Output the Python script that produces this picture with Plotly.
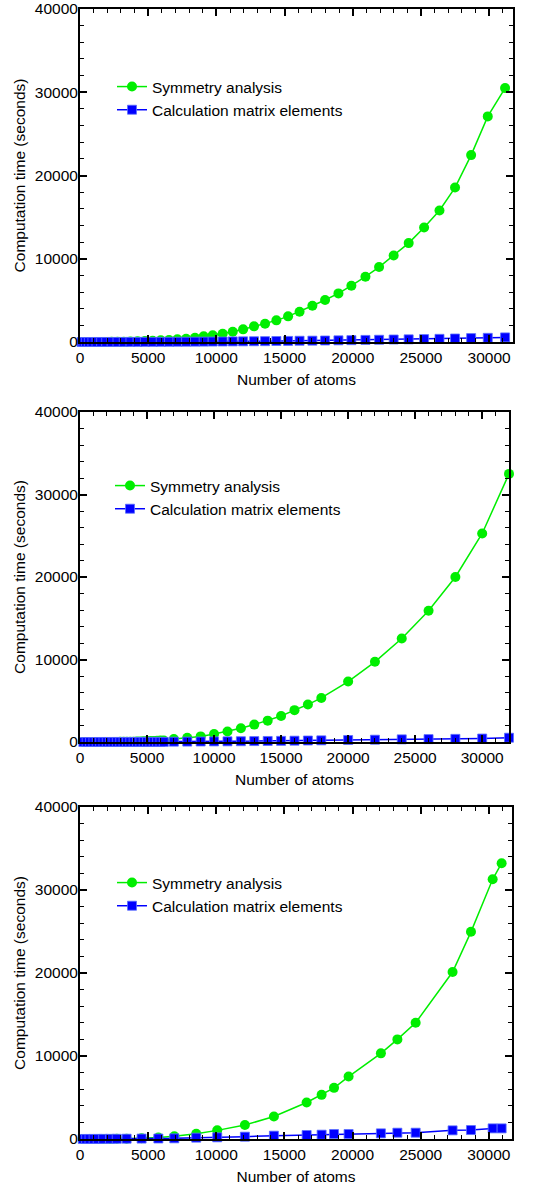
import plotly.graph_objects as go

# ---------------- Panel 1 data ----------------
atoms1 = [120, 250, 430, 650, 910, 1210, 1550, 1920, 2320, 2750, 3210, 3700, 4220, 4760,
          5330, 5920, 6530, 7140, 7780, 8430, 9070, 9730, 10460, 11200, 11960, 12760,
          13570, 14400, 15260, 16100, 17040, 17970, 18950, 19900, 20930, 21930, 23000,
          24100, 25230, 26360, 27500, 28680, 29900, 31170]
sym1 = [0.2, 0.5, 1, 2, 3, 5, 8, 12, 19, 28, 40, 55, 80, 110,
        150, 200, 240, 320, 400, 520, 680, 800, 1000, 1240, 1520, 1880,
        2200, 2600, 3080, 3640, 4360, 5040, 5840, 6760, 7840, 9000, 10400,
        11880, 13760, 15800, 18550, 22450, 27100, 30500]
mat1 = [0, 0, 0, 0, 1, 1, 1, 2, 3, 4, 6, 8, 10, 13,
        16, 20, 24, 29, 34, 40, 47, 55, 60, 70, 80, 90,
        100, 120, 130, 150, 160, 180, 200, 220, 250, 270, 300,
        320, 350, 380, 420, 470, 500, 550]

# ---------------- Panel 2 data ----------------
atoms2 = [250, 500, 750, 1000, 1250, 1500, 1750, 2000, 2250, 2500, 2750, 3000, 3250,
          3500, 3750, 4000, 4250, 4500, 4750, 5000, 5250, 5500, 5750, 6000, 6250,
          7000, 8000, 9000, 10000, 11000, 12000, 13000, 14000, 15000, 16000, 17000,
          18000, 20000, 22000, 24000, 26000, 28000, 30000, 32000]
sym2 = [0.1, 0.3, 0.7, 1, 2, 3, 4, 6, 8, 11, 15, 19, 24,
        30, 37, 45, 55, 65, 78, 92, 108, 126, 146, 168, 192,
        360, 520, 680, 960, 1270, 1670, 2110, 2590, 3150, 3860, 4540,
        5340, 7330, 9720, 12550, 15900, 20000, 25280, 32500]
mat2 = [0, 0, 0, 0, 0, 1, 1, 1, 1, 2, 2, 3, 3,
        4, 4, 5, 6, 7, 8, 9, 10, 11, 12, 14, 15,
        40, 50, 60, 70, 80, 95, 110, 125, 140, 160, 180,
        200, 240, 280, 320, 350, 380, 420, 520]

# ---------------- Panel 3 data ----------------
atoms3 = [200, 450, 700, 1000, 1300, 1700, 2200, 2700, 3420, 4520, 5750, 6920, 8530,
          10070, 12100, 14230, 16630, 17730, 18640, 19710, 22080, 23290, 24630,
          27340, 28690, 30280, 30940]
sym3 = [0.1, 0.5, 1, 2, 3, 6, 12, 20, 40, 90, 180, 320, 640,
        1040, 1680, 2720, 4400, 5320, 6160, 7520, 10320, 12000, 14000,
        20120, 24960, 31290, 33230]
mat3 = [1, 2, 4, 6, 9, 13, 18, 24, 35, 50, 60, 80, 160,
        200, 280, 400, 480, 520, 600, 600, 680, 760, 760,
        1040, 1080, 1280, 1280]

x_ranges = [[0, 31750], [0, 32000], [0, 31700]]
y_range = [0, 40000]

GREEN = "rgb(0,238,0)"
BLUE = "rgb(0,0,255)"
FONT = "Liberation Sans, Arial, Helvetica, sans-serif"
FS = 15.5

panels = [(atoms1, sym1, mat1), (atoms2, sym2, mat2), (atoms3, sym3, mat3)]

fig = go.Figure()
for i, (ax, s, m) in enumerate(panels):
    suf = "" if i == 0 else str(i + 1)
    leg = "legend" + suf
    fig.add_trace(go.Scatter(
        x=ax, y=s, mode="lines+markers", name="Symmetry analysis",
        line=dict(color=GREEN, width=1.5),
        marker=dict(symbol="circle", size=10, color=GREEN),
        xaxis="x" + suf, yaxis="y" + suf, legend=leg, cliponaxis=False))
    fig.add_trace(go.Scatter(
        x=ax, y=m, mode="lines+markers", name="Calculation matrix elements",
        line=dict(color=BLUE, width=1.5),
        marker=dict(symbol="square", size=9, color=BLUE,
                    line=dict(color="rgba(90,110,255,0.8)", width=1)),
        xaxis="x" + suf, yaxis="y" + suf, legend=leg, cliponaxis=False))

W, H = 552, 1188
# plot-area pixel boxes (left, right, top, bottom)
boxes = [(80, 513, 9, 342), (80, 509, 412, 742), (80, 512, 807, 1139)]

common_axis = dict(
    showline=True, linecolor="black", linewidth=2, mirror="ticks",
    ticks="inside", ticklen=7, tickwidth=1.5, tickcolor="black",
    showgrid=False, zeroline=False, layer="above traces", automargin=False,
    tickformat="d",
    tickfont=dict(family=FONT, size=FS, color="black"),
)

layout = dict(
    width=W, height=H, margin=dict(l=0, r=0, t=0, b=0, autoexpand=False),
    paper_bgcolor="white", plot_bgcolor="white",
    font=dict(family=FONT, size=FS, color="black"),
)

legend_pos = [(112, 70), (110, 469), (112, 866)]

for i, (l, r, t, b) in enumerate(boxes):
    suf = "" if i == 0 else str(i + 1)
    xa = dict(common_axis)
    xa.update(domain=[l / W, r / W], range=x_ranges[i], anchor="y" + suf,
              tickmode="linear", tick0=0, dtick=5000,
              minor=dict(ticks="inside", ticklen=4, tickwidth=1.2,
                         tickcolor="black", dtick=1000),
              title=dict(text="Number of atoms", standoff=10,
                         font=dict(family=FONT, size=FS, color="black")))
    ya = dict(common_axis)
    ya.update(domain=[1 - b / H, 1 - t / H], range=y_range, anchor="x" + suf,
              tickmode="linear", tick0=0, dtick=10000, ticklabelstandoff=-3,
              minor=dict(ticks="inside", ticklen=4, tickwidth=1.2,
                         tickcolor="black", dtick=2000),
              title=dict(text="Computation time (seconds)", standoff=5,
                         font=dict(family=FONT, size=FS, color="black")))
    layout["xaxis" + suf] = xa
    layout["yaxis" + suf] = ya
    lx, ly = legend_pos[i]
    layout["legend" + suf] = dict(
        x=lx / W, y=1 - ly / H, xanchor="left", yanchor="top",
        bgcolor="rgba(0,0,0,0)", borderwidth=0, itemwidth=30,
        tracegroupgap=0,
        font=dict(family=FONT, size=FS, color="black"))

fig.update_layout(**layout)
fig.write_html("out.html")
